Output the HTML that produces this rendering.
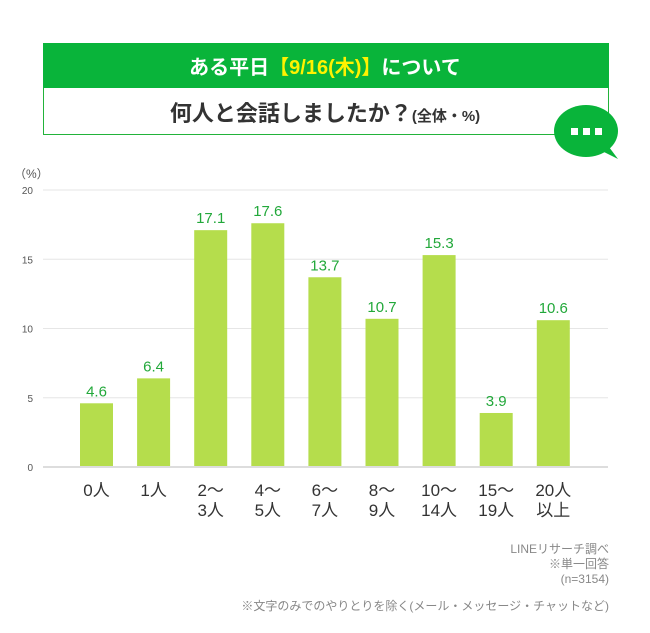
<!DOCTYPE html>
<html><head><meta charset="utf-8"><style>
body{margin:0;background:#fff;font-family:"Liberation Sans","Noto Sans CJK JP",sans-serif;}
#wrap{position:relative;width:650px;height:633px;overflow:hidden;}
</style></head><body>
<div id="wrap">
<svg id="svg" width="650" height="633" xmlns="http://www.w3.org/2000/svg" font-family="Liberation Sans, Noto Sans CJK JP, sans-serif">
 <g>
  <rect x="43.5" y="43.5" width="565" height="91" fill="#fff" stroke="#22b33a" stroke-width="1"/>
  <rect x="43" y="43" width="566" height="45" fill="#09b43a"/>
  <text x="325" y="74" text-anchor="middle" font-size="20" font-weight="bold" fill="#fff">ある平日<tspan fill="#fff200">【9/16(木)】</tspan>について</text>
  <text x="325" y="121" text-anchor="middle" font-size="22" font-weight="bold" fill="#333">何人と会話しましたか？<tspan font-size="15">(全体・%)</tspan></text>
 </g>
 <g>
  <ellipse cx="586" cy="131" rx="32" ry="26" fill="#09b43a"/>
  <path d="M600 150 L618 159 L606 143 Z" fill="#09b43a"/>
  <rect x="571" y="128" width="7" height="7" fill="#fff"/><rect x="583" y="128" width="7" height="7" fill="#fff"/><rect x="595" y="128" width="7" height="7" fill="#fff"/>
 </g>
 <text x="14" y="178" font-size="12" fill="#555">（%）</text>
 <g id="grid"></g><g id="bars"></g><g id="labels"></g>
 <g font-size="12" fill="#888" text-anchor="end">
  <text x="609" y="553">LINEリサーチ調べ</text>
  <text x="609" y="568">※単一回答</text>
  <text x="609" y="583">(n=3154)</text>
  <text x="609" y="610">※文字のみでのやりとりを除く(メール・メッセージ・チャットなど)</text>
 </g>
</svg>
</div>
<script>
const categories=[["0人"],["1人"],["2〜","3人"],["4〜","5人"],["6〜","7人"],["8〜","9人"],["10〜","14人"],["15〜","19人"],["20人","以上"]];
const values=[4.6,6.4,17.1,17.6,13.7,10.7,15.3,3.9,10.6];
const valueLabels=["4.6","6.4","17.1","17.6","13.7","10.7","15.3","3.9","10.6"];
const yTicks=[0,5,10,15,20];
const NS="http://www.w3.org/2000/svg";
function y(v){return 467-v*(277/20);}
function xc(i){return 96.5+i*57.1;}
function mk(t,a,p){const e=document.createElementNS(NS,t);for(const k in a)e.setAttribute(k,a[k]);p.appendChild(e);return e;}
const g=document.getElementById('grid'),b=document.getElementById('bars'),l=document.getElementById('labels');
yTicks.forEach(t=>{
 const ln=mk('line',{x1:43,x2:608,y1:y(t),y2:y(t),stroke:t===0?'#ddd':'#e6e6e6','stroke-width':t===0?2:1},g);
 
 
 const tx=mk('text',{x:33,y:y(t)+4,'text-anchor':'end','font-size':10,fill:'#555'},g);
 tx.textContent=t;
 
 
});
values.forEach((v,i)=>{
 const r=mk('rect',{x:xc(i)-16.5,y:y(v),width:33,height:y(0)-y(v)-1,fill:'#b5dd4c'},b);
 
 
 const t=mk('text',{x:xc(i),y:y(v)-7,'text-anchor':'middle','font-size':15,fill:'#22a83a'},l);
 t.textContent=valueLabels[i];
 
 
 categories[i].forEach((s,j)=>{
  const c=mk('text',{x:xc(i),y:496+j*20,'text-anchor':'middle','font-size':17,fill:'#333'},l);
  c.textContent=s;
  
  
 });
});
</script>
</body></html>
